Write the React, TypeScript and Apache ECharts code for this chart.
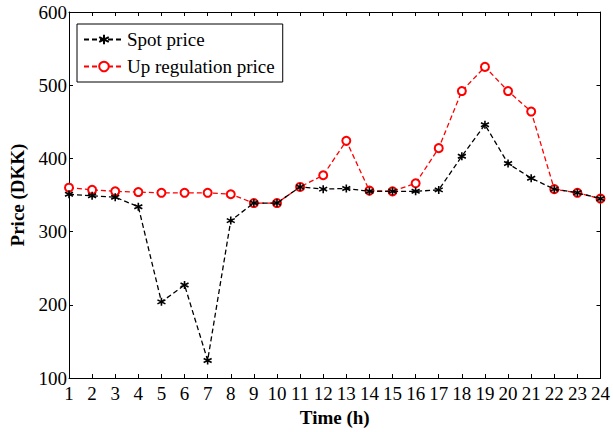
import React, { useEffect, useRef } from "react";
import * as echarts from "echarts";

const hours = ["1","2","3","4","5","6","7","8","9","10","11","12","13","14","15","16","17","18","19","20","21","22","23","24"];
const spotPrice = [351, 349, 347, 334, 204, 227, 124, 315, 339, 339, 361, 358, 359, 355, 355, 355, 357, 403, 446, 393, 373, 358, 353, 345];
const upRegulationPrice = [360, 357, 355, 354, 353, 353, 353, 351, 339, 339, 361, 377, 424, 356, 355, 366, 414, 492, 525, 492, 464, 358, 353, 345];
const yTicks = { min: 100, max: 600, interval: 100 };

const FONT = "'Liberation Serif', 'Times New Roman', serif";
const asterisk = "path://M5,0L5,10M0.7,2.5L9.3,7.5M0.7,7.5L9.3,2.5";

export default function App() {
  const ref = useRef<HTMLDivElement>(null);
  useEffect(() => {
    if (!ref.current) return;
    const chart = echarts.init(ref.current, null, { renderer: "svg" });
    const axisLine = { show: true, onZero: false, lineStyle: { color: "#000", width: 1 } };
    const tick = { show: true, inside: true, length: 4, lineStyle: { color: "#000", width: 1 } };
    chart.setOption({
      animation: false,
      backgroundColor: "#fff",
      textStyle: { fontFamily: FONT },
      grid: { left: 64, right: 12, top: 12, bottom: 54, containLabel: false },
      legend: {
        orient: "vertical",
        left: 77,
        top: 24,
        padding: [6, 8, 6, 6],
        itemWidth: 40,
        itemHeight: 12,
        itemGap: 8,
        borderColor: "#000",
        borderWidth: 1,
        borderRadius: 0,
        backgroundColor: "#fff",
        textStyle: { fontFamily: FONT, fontSize: 19, color: "#000", lineHeight: 18, padding: [0, 0, 0, -2] },
        data: ["Spot price", "Up regulation price"],
      },
      xAxis: [
        {
          type: "category",
          data: hours,
          boundaryGap: false,
          position: "bottom",
          axisLine,
          axisTick: { ...tick, alignWithLabel: true },
          axisLabel: { fontFamily: FONT, fontSize: 19, color: "#000", margin: 6, interval: 0 },
          splitLine: { show: false },
          name: "Time (h)",
          nameLocation: "middle",
          nameGap: 28,
          nameTextStyle: { fontFamily: FONT, fontSize: 19, fontWeight: "bold", color: "#000" },
        },
        {
          type: "category",
          data: hours,
          boundaryGap: false,
          position: "top",
          axisLine,
          axisTick: tick,
          axisLabel: { show: false },
          splitLine: { show: false },
        },
      ],
      yAxis: [
        {
          type: "value",
          ...yTicks,
          position: "left",
          axisLine,
          axisTick: tick,
          axisLabel: { fontFamily: FONT, fontSize: 19, color: "#000", margin: 2 },
          splitLine: { show: false },
          name: "Price (DKK)",
          nameLocation: "middle",
          nameGap: 42,
          nameTextStyle: { fontFamily: FONT, fontSize: 19, fontWeight: "bold", color: "#000" },
        },
        {
          type: "value",
          ...yTicks,
          position: "right",
          axisLine,
          axisTick: tick,
          axisLabel: { show: false },
          splitLine: { show: false },
        },
      ],
      series: [
        {
          name: "Spot price",
          type: "line",
          data: spotPrice,
          symbol: asterisk,
          symbolSize: 8,
          lineStyle: { color: "#000", width: 1.3, type: [5, 3] },
          itemStyle: { color: "#000", borderColor: "#000", borderWidth: 1.6 },
          z: 3,
        },
        {
          name: "Up regulation price",
          type: "line",
          data: upRegulationPrice,
          symbol: "emptyCircle",
          symbolSize: 8,
          lineStyle: { color: "#ff0000", width: 1.3, type: [5, 3] },
          itemStyle: { color: "#ff0000", borderColor: "#ff0000", borderWidth: 1.5 },
          z: 2,
        },
      ],
    });
    return () => chart.dispose();
  }, []);
  return <div ref={ref} style={{ width: 613, height: 432, position: "absolute", left: 0, top: 0 }} />;
}
